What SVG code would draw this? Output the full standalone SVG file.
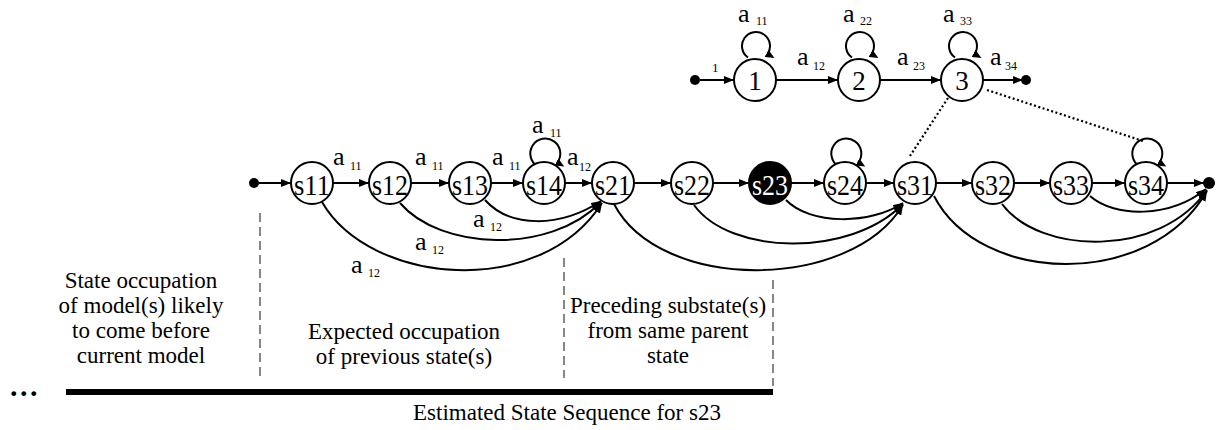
<svg xmlns="http://www.w3.org/2000/svg" width="1226" height="430" viewBox="0 0 1226 430">
<style>
.st{fill:#fff;stroke:#000;stroke-width:2}
.stb{fill:#000;stroke:#000;stroke-width:2}
.dot{fill:#000}
.cn{fill:none;stroke:#000;stroke-width:2;marker-end:url(#ar)}
.lp{fill:none;stroke:#000;stroke-width:2;marker-end:url(#lr)}
.dt{fill:none;stroke:#000;stroke-width:2.2;stroke-dasharray:2 2.5}
.ds{fill:none;stroke:#555;stroke-width:1.4;stroke-dasharray:9 5}
text{font-family:"Liberation Serif","Times New Roman",serif;fill:#000}
.lbl{font-size:30px;text-anchor:middle}
.num{font-size:27px;text-anchor:middle}
.a{font-size:26px}
.sub{font-size:12px}
.tx{font-size:23px;text-anchor:middle}
</style>
<defs>
<marker id="ar" markerWidth="10" markerHeight="8" refX="10" refY="4" orient="auto" markerUnits="userSpaceOnUse"><path d="M0,0 L10,4 L0,8 z" fill="#000"/></marker>
<marker id="lr" markerWidth="10" markerHeight="8" refX="1" refY="4" orient="30" markerUnits="userSpaceOnUse"><path d="M0,0 L9,4 L0,8 z" fill="#000"/></marker>
</defs>
<rect width="1226" height="430" fill="#fff"/>

<g id="connectors">
<!-- top model -->
<line class="cn" x1="700" y1="80" x2="734" y2="80"/>
<line class="cn" x1="776" y1="80" x2="838" y2="80"/>
<line class="cn" x1="880" y1="80" x2="941" y2="80"/>
<line class="cn" x1="983" y1="80" x2="1023" y2="80"/>
<path class="lp" d="M748,57.5 A14 14 0 1 1 767.5,54"/>
<path class="lp" d="M852,57.5 A14 14 0 1 1 871.5,54"/>
<path class="lp" d="M955,57.5 A14 14 0 1 1 974.5,54"/>
<line class="dt" x1="948" y1="98" x2="910" y2="156"/>
<line class="dt" x1="987" y1="90" x2="1143" y2="141"/>
<!-- main row straight -->
<line class="cn" x1="259" y1="183" x2="291" y2="183"/>
<line class="cn" x1="333" y1="183" x2="369" y2="183"/>
<line class="cn" x1="411" y1="183" x2="449" y2="183"/>
<line class="cn" x1="491" y1="183" x2="523" y2="183"/>
<line class="cn" x1="565" y1="183" x2="592" y2="183"/>
<line class="cn" x1="634" y1="183" x2="671" y2="183"/>
<line class="cn" x1="713" y1="183" x2="749" y2="183"/>
<line class="cn" x1="791" y1="183" x2="824" y2="183"/>
<line class="cn" x1="866" y1="183" x2="894" y2="183"/>
<line class="cn" x1="936" y1="183" x2="972" y2="183"/>
<line class="cn" x1="1014" y1="183" x2="1050" y2="183"/>
<line class="cn" x1="1092" y1="183" x2="1125" y2="183"/>
<line class="cn" x1="1167" y1="183" x2="1204" y2="183"/>
<!-- main row loops -->
<path class="lp" d="M537.4,166.3 A15 15 0 1 1 557.3,162.6"/>
<path class="lp" d="M838.4,166.3 A15 15 0 1 1 858.3,162.6"/>
<path class="lp" d="M1139.4,166.3 A15 15 0 1 1 1159.3,162.6"/>
<!-- skip arcs into s21 -->
<path class="cn" d="M485,200 C510,228 560,228 601,201"/>
<path class="cn" d="M400,203 C440,250 550,255 601,202"/>
<path class="cn" d="M322,202 C370,285 540,300 602,203"/>
<!-- skip arcs into s31 -->
<path class="cn" d="M786,200 C810,225 870,225 903,203"/>
<path class="cn" d="M694,205 C730,255 850,258 903,204"/>
<path class="cn" d="M614,204 C660,292 850,292 903,205"/>
<!-- skip arcs into end -->
<path class="cn" d="M1090,196 C1115,218 1170,218 1206,189"/>
<path class="cn" d="M1002,204 C1040,255 1160,258 1207,190"/>
<path class="cn" d="M934,196 C980,285 1150,290 1207,191"/>
</g>

<g id="top-start"><circle class="dot" cx="695" cy="80" r="5"/></g>
<g id="top-end"><circle class="dot" cx="1026" cy="80" r="5"/></g>
<g id="state-1"><circle class="st" cx="755" cy="80" r="21"/><text class="num" x="755" y="90">1</text></g>
<g id="state-2"><circle class="st" cx="859" cy="80" r="21"/><text class="num" x="859" y="90">2</text></g>
<g id="state-3"><circle class="st" cx="962" cy="80" r="21"/><text class="num" x="962" y="90">3</text></g>

<g id="main-start"><circle class="dot" cx="254" cy="183" r="5"/></g>
<g id="main-end"><circle class="dot" cx="1209" cy="183" r="6"/></g>
<g id="s11"><circle class="st" cx="312" cy="183" r="21"/><text class="lbl" x="312" y="195" textLength="36" lengthAdjust="spacingAndGlyphs">s11</text></g>
<g id="s12"><circle class="st" cx="390" cy="183" r="21"/><text class="lbl" x="390" y="195" textLength="36" lengthAdjust="spacingAndGlyphs">s12</text></g>
<g id="s13"><circle class="st" cx="470" cy="183" r="21"/><text class="lbl" x="470" y="195" textLength="36" lengthAdjust="spacingAndGlyphs">s13</text></g>
<g id="s14"><circle class="st" cx="544" cy="183" r="21"/><text class="lbl" x="544" y="195" textLength="36" lengthAdjust="spacingAndGlyphs">s14</text></g>
<g id="s21"><circle class="st" cx="613" cy="183" r="21"/><text class="lbl" x="613" y="195" textLength="36" lengthAdjust="spacingAndGlyphs">s21</text></g>
<g id="s22"><circle class="st" cx="692" cy="183" r="21"/><text class="lbl" x="692" y="195" textLength="36" lengthAdjust="spacingAndGlyphs">s22</text></g>
<g id="s23"><circle class="stb" cx="770" cy="183" r="21"/><text class="lbl" x="770" y="195" textLength="36" lengthAdjust="spacingAndGlyphs" fill="#fff" style="fill:#fff">s23</text></g>
<g id="s24"><circle class="st" cx="845" cy="183" r="21"/><text class="lbl" x="845" y="195" textLength="36" lengthAdjust="spacingAndGlyphs">s24</text></g>
<g id="s31"><circle class="st" cx="915" cy="183" r="21"/><text class="lbl" x="915" y="195" textLength="36" lengthAdjust="spacingAndGlyphs">s31</text></g>
<g id="s32"><circle class="st" cx="993" cy="183" r="21"/><text class="lbl" x="993" y="195" textLength="36" lengthAdjust="spacingAndGlyphs">s32</text></g>
<g id="s33"><circle class="st" cx="1071" cy="183" r="21"/><text class="lbl" x="1071" y="195" textLength="36" lengthAdjust="spacingAndGlyphs">s33</text></g>
<g id="s34"><circle class="st" cx="1146" cy="183" r="21"/><text class="lbl" x="1146" y="195" textLength="36" lengthAdjust="spacingAndGlyphs">s34</text></g>

<g id="labels">
<text x="712" y="72" style="font-size:13px">1</text>
<text class="a" x="738" y="22">a<tspan class="sub" x="756" y="25">11</tspan></text>
<text class="a" x="843" y="22">a<tspan class="sub" x="860" y="25">22</tspan></text>
<text class="a" x="943" y="22">a<tspan class="sub" x="960" y="25">33</tspan></text>
<text class="a" x="797" y="65">a<tspan class="sub" x="813" y="70">12</tspan></text>
<text class="a" x="897" y="65">a<tspan class="sub" x="913" y="70">23</tspan></text>
<text class="a" x="990" y="65">a<tspan class="sub" x="1005" y="70">34</tspan></text>
<text class="a" x="333" y="165">a<tspan class="sub" x="350" y="170">11</tspan></text>
<text class="a" x="415" y="165">a<tspan class="sub" x="432" y="170">11</tspan></text>
<text class="a" x="492" y="165">a<tspan class="sub" x="509" y="170">11</tspan></text>
<text class="a" x="532" y="133">a<tspan class="sub" x="550" y="137">11</tspan></text>
<text class="a" x="567" y="165">a<tspan class="sub" x="579" y="171">12</tspan></text>
<text class="a" x="473" y="227">a<tspan class="sub" x="490" y="231">12</tspan></text>
<text class="a" x="415" y="250">a<tspan class="sub" x="432" y="254">12</tspan></text>
<text class="a" x="351" y="273">a<tspan class="sub" x="368" y="277">12</tspan></text>
</g>

<g id="sequence">
<line class="ds" x1="260" y1="213" x2="260" y2="376"/>
<line class="ds" x1="564" y1="258" x2="564" y2="378"/>
<line class="ds" x1="773" y1="280" x2="773" y2="386"/>
<rect x="66" y="389" width="707" height="6" fill="#000"/>
<text x="10" y="396" style="font-size:30px;font-weight:bold;letter-spacing:2.5px">...</text>
<text class="tx" x="141" y="288">State occupation</text>
<text class="tx" x="141" y="313">of model(s) likely</text>
<text class="tx" x="141" y="338">to come before</text>
<text class="tx" x="141" y="363">current model</text>
<text class="tx" x="404" y="339">Expected occupation</text>
<text class="tx" x="404" y="364">of previous state(s)</text>
<text class="tx" x="668" y="313">Preceding substate(s)</text>
<text class="tx" x="668" y="338">from same parent</text>
<text class="tx" x="668" y="363">state</text>
<text class="tx" x="567" y="420">Estimated State Sequence for s23</text>
</g>
</svg>
